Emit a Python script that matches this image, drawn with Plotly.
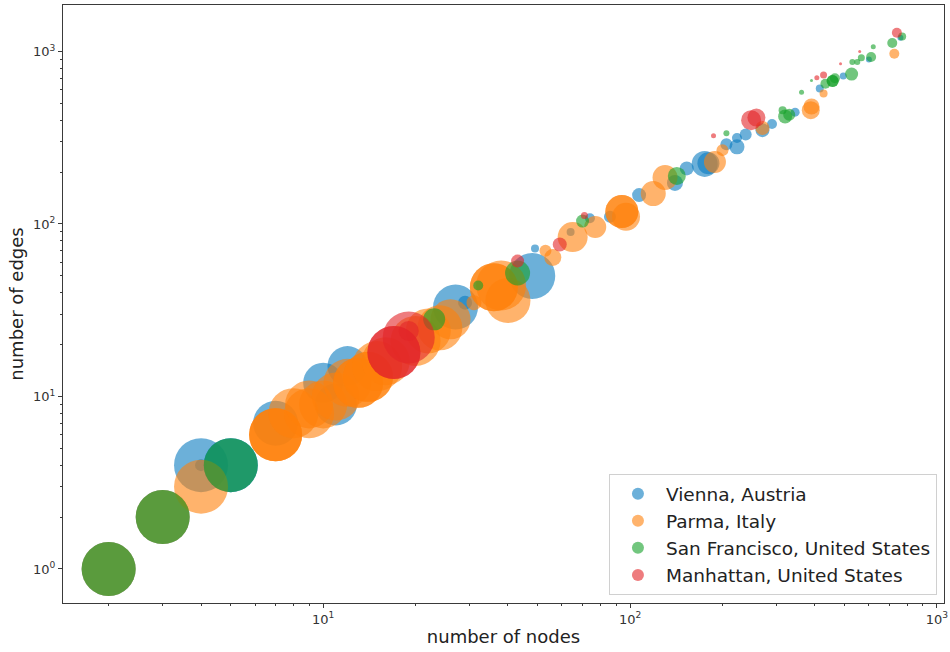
import plotly.graph_objects as go
import numpy as np

# ---------------- data ----------------
cities = ["Vienna, Austria", "Parma, Italy", "San Francisco, United States", "Manhattan, United States"]
colors = ["#0a7cc0", "#ff800a", "#14a028", "#e32428"]

vienna_nodes = [2, 3, 4, 4, 5, 5, 7, 11, 10, 12, 27, 29, 48, 49, 64, 74, 86, 107, 140, 153, 175, 180, 206, 223, 223, 238, 270, 290, 345, 415, 495, 600, 760]
vienna_edges = [1, 2, 4, 4, 4, 4, 7, 9, 12, 15, 33, 35, 50, 72, 90, 108, 110, 147, 173, 210, 223, 225, 290, 280, 315, 330, 350, 380, 445, 610, 720, 900, 1200]
vienna_w     = [54, 54, 54, 12, 54, 54, 45, 42, 40, 40, 45, 14, 46, 8, 8, 10, 12, 14, 16, 14, 26, 22, 12, 15, 10, 12, 14, 10, 9, 8, 7, 6, 6]

parma_nodes = [2, 3, 4, 7, 7, 7, 8, 9, 9, 10, 11, 12, 13, 13, 14, 14, 15, 16, 20, 22, 24, 26, 31, 36, 36, 38, 40, 53, 56, 65, 77, 94, 94, 97, 119, 130, 189, 200, 270, 388, 390, 427, 726]
parma_edges = [1, 2, 3, 6, 6, 6, 8, 8, 9, 9, 10, 12, 12, 12, 13, 13, 15, 16, 21, 24, 25, 28, 35, 43, 43, 44, 36, 70, 64, 84, 96, 118, 118, 110, 150, 186, 229, 268, 360, 457, 480, 570, 970]
parma_w     = [54, 54, 54, 53, 53, 53, 50, 50, 48, 48, 48, 48, 50, 50, 50, 50, 50, 48, 50, 45, 45, 40, 15, 48, 48, 50, 45, 12, 17, 30, 22, 33, 33, 28, 25, 25, 22, 12, 14, 18, 16, 8, 10]

sf_nodes = [2, 3, 5, 23, 32, 43, 70, 142, 206, 314, 320, 330, 362, 390, 433, 457, 457, 465, 527, 530, 550, 567, 610, 620, 715, 770]
sf_edges = [1, 2, 4, 28, 44, 52, 104, 190, 336, 456, 420, 430, 580, 680, 650, 675, 675, 700, 740, 870, 870, 920, 930, 1065, 1120, 1220]
sf_w     = [54, 54, 54, 22, 10, 25, 13, 18, 6, 8, 14, 12, 5, 3, 10, 12, 12, 10, 13, 6, 6, 7, 10, 5, 10, 8]

man_nodes = [17, 17, 19, 19, 43, 59, 71, 187, 248, 258, 406, 427, 485, 560, 740]
man_edges = [18, 18, 22, 24, 61, 76, 112, 325, 400, 414, 705, 730, 850, 1000, 1285]
man_w     = [53, 53, 52, 20, 13, 14, 7, 5, 20, 18, 5, 7, 3, 3, 10]

series = [
    (vienna_nodes, vienna_edges, vienna_w),
    (parma_nodes, parma_edges, parma_w),
    (sf_nodes, sf_edges, sf_w),
    (man_nodes, man_edges, man_w),
]

x_ticks = [10, 100, 1000]
x_ticktext = ["10<sup>1</sup>", "10<sup>2</sup>", "10<sup>3</sup>"]
y_ticks = [1, 10, 100, 1000]
y_ticktext = ["10<sup>0</sup>", "10<sup>1</sup>", "10<sup>2</sup>", "10<sup>3</sup>"]

minor_vals = [m * 10 ** k for k in range(0, 4) for m in range(2, 10)]

# ---------------- figure ----------------
fig = go.Figure()
for name, col, (xs, ys, ws) in zip(cities, colors, series):
    fig.add_trace(go.Scatter(
        x=xs, y=ys, mode="markers", name=name,
        marker=dict(size=ws, color=col, opacity=0.6, line=dict(width=0)),
    ))

axis_common = dict(
    type="log", automargin=False,
    showgrid=False, zeroline=False,
    showline=True, linecolor="#3a3a3a", linewidth=1.3, mirror=True,
    ticks="outside", ticklen=4, tickwidth=1, tickcolor="#3a3a3a",
    tickfont=dict(family="DejaVu Sans", size=13, color="#333"),
    minor=dict(ticks="outside", ticklen=2, tickwidth=0.8, tickcolor="#3a3a3a", tickvals=minor_vals),
)

fig.update_xaxes(
    **axis_common,
    range=[np.log10(1.42), np.log10(1054)],
    tickmode="array", tickvals=x_ticks, ticktext=x_ticktext,
    title=dict(text="number of nodes", font=dict(family="DejaVu Sans", size=18, color="#222"), standoff=4),
)
fig.update_yaxes(
    **axis_common,
    range=[np.log10(0.635), np.log10(1860)],
    tickmode="array", tickvals=y_ticks, ticktext=y_ticktext,
    title=dict(text="number of edges", font=dict(family="DejaVu Sans", size=18, color="#222"), standoff=4),
)

fig.update_layout(
    width=950, height=652,
    margin=dict(l=63, r=6, t=5, b=49),
    paper_bgcolor="white", plot_bgcolor="white",
    showlegend=True,
    legend=dict(
        x=0.992, y=0.013, xanchor="right", yanchor="bottom",
        bgcolor="rgba(255,255,255,0.85)", bordercolor="#d0d0d0", borderwidth=1,
        font=dict(family="DejaVu Sans", size=18.5, color="#222"),
        itemsizing="constant", itemwidth=46,
    ),
)

fig.write_html(
    "out.html",
    config={"displayModeBar": False},
    post_script="document.body.style.margin='0';document.body.style.padding='0';",
)
